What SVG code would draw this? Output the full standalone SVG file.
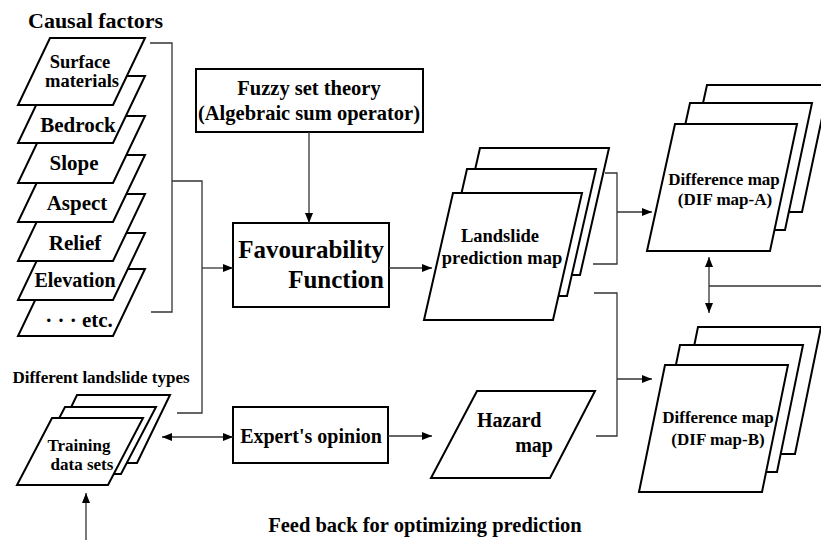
<svg xmlns="http://www.w3.org/2000/svg" width="821" height="540" viewBox="0 0 821 540">
<style>
text{font-family:"Liberation Serif","Times New Roman",serif;font-weight:bold;fill:#000}
.sh{fill:#fff;stroke:#000;stroke-width:2;stroke-linejoin:miter}
.bx{fill:#fff;stroke:#000;stroke-width:2}
.ln{fill:none;stroke:#333;stroke-width:1.3}
.c{text-anchor:middle}
</style>
<defs>
<marker id="ah" markerUnits="userSpaceOnUse" markerWidth="10" markerHeight="8" refX="10" refY="4" orient="auto-start-reverse">
<path d="M0,0 L10,4 L0,8 z" fill="#000"/>
</marker>
</defs>

<text x="28" y="28" font-size="22">Causal factors</text>

<g id="layer-etc">
<polygon class="sh" points="50,269 145,269 113,336 18,336"/>
<text class="c" x="79" y="327" font-size="21">· · · etc.</text>
</g>
<g id="layer-elevation">
<polygon class="sh" points="50,233 145,233 113,300 18,300"/>
<text class="c" x="75" y="287" font-size="20">Elevation</text>
</g>
<g id="layer-relief">
<polygon class="sh" points="50,194 145,194 113,261 18,261"/>
<text class="c" x="75" y="250" font-size="21">Relief</text>
</g>
<g id="layer-aspect">
<polygon class="sh" points="50,155 145,155 113,222 18,222"/>
<text class="c" x="77" y="210" font-size="21">Aspect</text>
</g>
<g id="layer-slope">
<polygon class="sh" points="50,116 145,116 113,183 18,183"/>
<text class="c" x="74" y="170" font-size="21">Slope</text>
</g>
<g id="layer-bedrock">
<polygon class="sh" points="50,76 145,76 113,143 18,143"/>
<text class="c" x="78" y="132" font-size="21">Bedrock</text>
</g>
<g id="layer-surface">
<polygon class="sh" points="50,38 145,38 113,105 18,105"/>
<text class="c" x="80" y="68" font-size="18.5">Surface</text>
<text class="c" x="82" y="87" font-size="18.5">materials</text>
</g>

<text class="c" x="101" y="383" font-size="17">Different landslide types</text>

<g id="training">
<polygon class="sh" points="77,395 170,395 137,463 44,463"/>
<polygon class="sh" points="65,407 156,407 121,474 30,474"/>
<polygon class="sh" points="52,418 143,418 108,485 17,485"/>
<text class="c" x="79" y="451" font-size="17">Training</text>
<text class="c" x="82" y="470" font-size="17">data sets</text>
</g>

<g id="fuzzy">
<rect class="bx" x="196" y="69" width="227" height="63"/>
<text class="c" x="309" y="95" font-size="20.5">Fuzzy set theory</text>
<text class="c" x="309" y="120" font-size="20.5">(Algebraic sum operator)</text>
</g>

<g id="favourability">
<rect class="bx" x="233" y="223" width="156" height="84"/>
<text x="384" y="258" font-size="25" text-anchor="end">Favourability</text>
<text x="384" y="288" font-size="25" text-anchor="end">Function</text>
</g>

<g id="landslide-map">
<polygon class="sh" points="480,148 609,148 580,275 451,275"/>
<polygon class="sh" points="467,169 596,169 567,296 438,296"/>
<polygon class="sh" points="453,193 582,193 553,320 424,320"/>
<text class="c" x="500" y="242" font-size="18.5">Landslide</text>
<text class="c" x="502" y="264" font-size="18.5">prediction map</text>
</g>

<g id="dif-a">
<polygon class="sh" points="707,85 829,85 802,212 679,212"/>
<polygon class="sh" points="690,103 812,103 785,230 662,230"/>
<polygon class="sh" points="675,124 797,124 770,251 647,251"/>
<text class="c" x="724" y="185" font-size="17">Difference map</text>
<text class="c" x="725" y="205" font-size="17">(DIF map-A)</text>
</g>

<g id="dif-b">
<polygon class="sh" points="698,327 821,327 795,454 672,454"/>
<polygon class="sh" points="680,345 803,345 777,472 654,472"/>
<polygon class="sh" points="665,365 788,365 762,492 639,492"/>
<text class="c" x="718" y="423" font-size="17">Difference map</text>
<text class="c" x="718" y="445" font-size="17">(DIF map-B)</text>
</g>

<g id="expert">
<rect class="bx" x="233" y="407" width="155" height="56"/>
<text class="c" x="311" y="443" font-size="20">Expert's opinion</text>
</g>

<g id="hazard">
<polygon class="sh" points="477,391 595,391 550,478 431,478"/>
<text x="477" y="427" font-size="20">Hazard</text>
<text x="553" y="452" font-size="20" text-anchor="end">map</text>
</g>

<text class="c" x="425" y="532" font-size="20.5">Feed back for optimizing prediction</text>

<g id="connectors">
<polyline class="ln" points="150,43 172,43 172,312 151,312"/>
<polyline class="ln" points="172,181 202,181 202,413 177,413"/>
<line class="ln" x1="202" y1="268" x2="233" y2="268" marker-end="url(#ah)"/>
<line class="ln" x1="309" y1="132" x2="309" y2="223" marker-end="url(#ah)"/>
<line class="ln" x1="389" y1="268" x2="432" y2="268" marker-end="url(#ah)"/>
<polyline class="ln" points="605,173 617,173 617,264 593,264"/>
<line class="ln" x1="617" y1="212" x2="652" y2="212" marker-end="url(#ah)"/>
<polyline class="ln" points="594,293 617,293 617,436 596,436"/>
<line class="ln" x1="617" y1="379" x2="652" y2="379" marker-end="url(#ah)"/>
<line class="ln" x1="709" y1="257" x2="709" y2="313" marker-start="url(#ah)" marker-end="url(#ah)"/>
<line class="ln" x1="709" y1="286" x2="821" y2="286"/>
<line class="ln" x1="162" y1="437" x2="233" y2="437" marker-start="url(#ah)" marker-end="url(#ah)"/>
<line class="ln" x1="388" y1="436" x2="432" y2="436" marker-end="url(#ah)"/>
<line class="ln" x1="86" y1="540" x2="86" y2="493" marker-end="url(#ah)"/>
</g>
</svg>
